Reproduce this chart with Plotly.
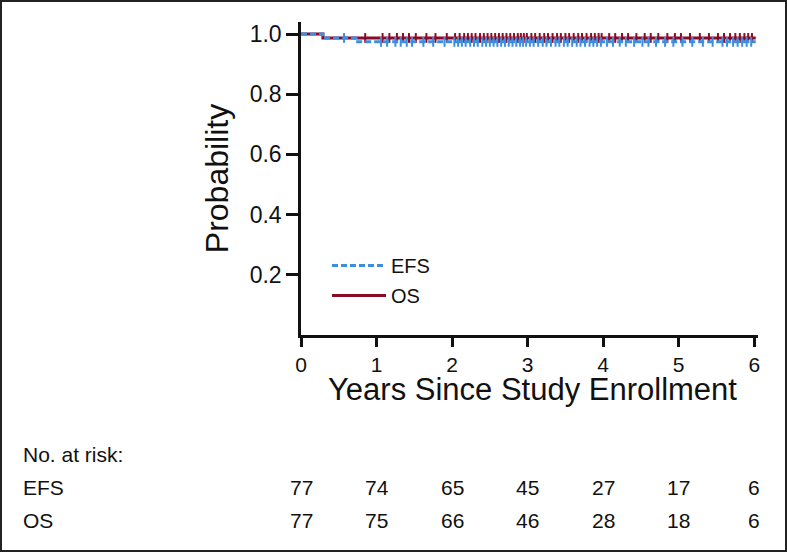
import numpy as np
import plotly.graph_objects as go

# ---------------- data ----------------
years_ticks = [0, 1, 2, 3, 4, 5, 6]
prob_ticks = [0.2, 0.4, 0.6, 0.8, 1.0]
prob_tick_labels = ["0.2", "0.4", "0.6", "0.8", "1.0"]

# Kaplan-Meier step curves (time in years, survival probability)
efs_t = [0.0, 0.29, 0.73, 6.02]
efs_s = [1.0, 0.987, 0.974, 0.974]
os_t = [0.0, 0.29, 6.02]
os_s = [1.0, 0.987, 0.987]

efs_censor = [0.57,
              1.06, 1.14, 1.25, 1.32, 1.40, 1.47, 1.62, 1.75, 1.90,
              2.03, 2.08, 2.13, 2.18, 2.24, 2.29, 2.34, 2.40, 2.45, 2.50,
              2.55, 2.60, 2.65, 2.70, 2.75, 2.80, 2.85, 2.90, 2.94, 2.98,
              3.03, 3.08, 3.14, 3.20, 3.25, 3.31, 3.37, 3.42, 3.48, 3.53,
              3.59, 3.65, 3.70, 3.76, 3.82, 3.87, 3.92, 3.97,
              4.05, 4.13, 4.22, 4.30, 4.41, 4.52, 4.60, 4.70, 4.82, 4.93,
              5.05, 5.18, 5.32, 5.45, 5.58, 5.64, 5.72, 5.78, 5.84, 5.90, 5.96]
os_censor = [0.85,
             1.08, 1.17, 1.27, 1.35, 1.43, 1.52, 1.66, 1.78, 1.93,
             2.04, 2.10, 2.16, 2.21, 2.26, 2.31, 2.37, 2.42, 2.47, 2.52,
             2.57, 2.62, 2.67, 2.72, 2.77, 2.82, 2.87, 2.91, 2.95, 2.99,
             3.05, 3.10, 3.16, 3.22, 3.27, 3.33, 3.39, 3.44, 3.50, 3.55,
             3.61, 3.67, 3.72, 3.78, 3.84, 3.89, 3.94, 3.98,
             4.08, 4.16, 4.25, 4.33, 4.44, 4.55, 4.63, 4.73, 4.85, 4.95,
             5.03, 5.15, 5.28, 5.40, 5.52, 5.60, 5.68, 5.75, 5.81, 5.87, 5.92, 5.97]

# numbers at risk
risk_times = [0, 1, 2, 3, 4, 5, 6]
efs_at_risk = [77, 74, 65, 45, 27, 17, 6]
os_at_risk = [77, 75, 66, 46, 28, 18, 6]

# ---------------- style ----------------
BLUE = "#3d8ee0"
RED = "#8b0b26"
INK = "#111111"
FONT = "Arial, Liberation Sans, Helvetica, sans-serif"
W, H = 787, 552
ML, MR, MT, MB = 301, 29, 22, 217
PW, PH = W - ML - MR, H - MT - MB


def step_value(times, surv, x):
    idx = np.searchsorted(np.array(times), np.array(x), side="right") - 1
    return list(np.array(surv)[idx])


def py(pix):
    return (MT + PH - pix) / PH


def px_(pix):
    return (pix - ML) / PW


fig = go.Figure()

# OS first (drawn underneath), EFS on top
fig.add_trace(go.Scatter(x=os_t, y=os_s, mode="lines", line_shape="hv",
                         line=dict(color=RED, width=3), name="OS",
                         legendrank=2, legendgroup="os", cliponaxis=False))
fig.add_trace(go.Scatter(x=os_censor, y=step_value(os_t, os_s, os_censor), mode="markers",
                         marker=dict(symbol="line-ns-open", size=7, color=RED,
                                     line=dict(color=RED, width=2)),
                         showlegend=False, hoverinfo="skip"))
fig.add_trace(go.Scatter(x=efs_t, y=efs_s, mode="lines", line_shape="hv",
                         line=dict(color=BLUE, width=3, dash="6px,3px"), name="EFS",
                         legendrank=1, legendgroup="efs", cliponaxis=False))
fig.add_trace(go.Scatter(x=efs_censor, y=step_value(efs_t, efs_s, efs_censor), mode="markers",
                         marker=dict(symbol="line-ns-open", size=7, color=BLUE,
                                     line=dict(color=BLUE, width=2)),
                         showlegend=False, hoverinfo="skip"))

annotations = []
tbl_font = dict(family=FONT, size=21, color=INK)

annotations.append(dict(text="No. at risk:", xref="paper", yref="paper",
                        x=px_(21), y=py(454), xanchor="left", yanchor="middle",
                        showarrow=False, font=tbl_font))
for label, vals, ypix in [("EFS", efs_at_risk, 487), ("OS", os_at_risk, 520)]:
    annotations.append(dict(text=label, xref="paper", yref="paper",
                            x=px_(21), y=py(ypix), xanchor="left", yanchor="middle",
                            showarrow=False, font=tbl_font))
    for t, v in zip(risk_times, vals):
        annotations.append(dict(text=str(v), xref="x", yref="paper",
                                x=t, y=py(ypix), xanchor="center", yanchor="middle",
                                showarrow=False, font=tbl_font))

# x-axis title placed as annotation for precise vertical placement
annotations.append(dict(text="Years Since Study Enrollment", xref="paper", yref="paper",
                        x=px_(532), y=py(389), xanchor="center", yanchor="middle",
                        showarrow=False, font=dict(family=FONT, size=31, color=INK)))

shapes = [dict(type="rect", xref="paper", yref="paper",
               x0=-ML / PW, x1=1 + MR / PW, y0=-MB / PH, y1=1 + MT / PH,
               line=dict(color="#222", width=4), fillcolor="rgba(0,0,0,0)", layer="above")]

fig.update_layout(
    width=W, height=H,
    margin=dict(l=ML, r=MR, t=MT, b=MB, pad=0),
    paper_bgcolor="white", plot_bgcolor="white",
    font=dict(family=FONT, color=INK),
    showlegend=True,
    legend=dict(x=px_(327), y=py(246), xanchor="left", yanchor="top",
                font=dict(family=FONT, size=20, color=INK),
                bgcolor="rgba(0,0,0,0)", itemwidth=54,
                traceorder="grouped", tracegroupgap=1),
    annotations=annotations,
    shapes=shapes,
    xaxis=dict(range=[0, 6.05], tickvals=years_ticks, ticktext=[str(v) for v in years_ticks],
               showline=True, linecolor=INK, linewidth=2.5, mirror=False,
               ticks="outside", ticklen=9, tickwidth=2.5, tickcolor=INK,
               showgrid=False, zeroline=False,
               tickfont=dict(family=FONT, size=21, color=INK)),
    yaxis=dict(range=[0, 1.04], tickvals=prob_ticks, ticktext=prob_tick_labels,
               showline=True, linecolor=INK, linewidth=2.5,
               ticks="outside", ticklen=12, tickwidth=2.5, tickcolor=INK,
               showgrid=False, zeroline=False,
               tickfont=dict(family=FONT, size=23, color=INK),
               title=dict(text="Probability", standoff=12,
                          font=dict(family=FONT, size=32, color=INK))),
)

fig.write_html("out.html", config={"displayModeBar": False},
               post_script="document.body.style.margin='0';document.body.style.padding='0';")
